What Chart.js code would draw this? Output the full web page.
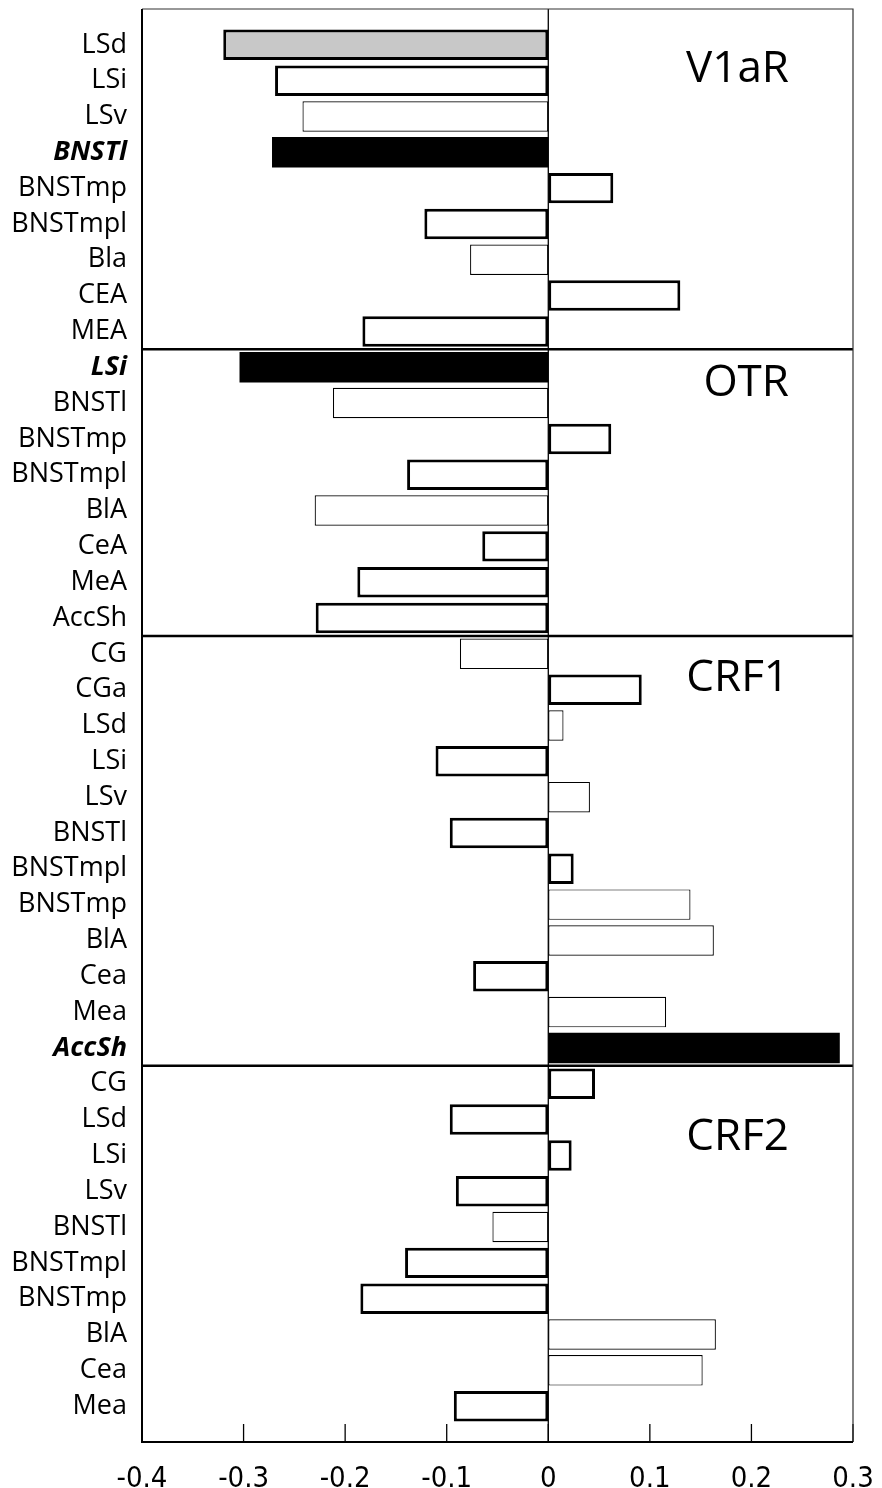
<!DOCTYPE html>
<html>
<head>
<meta charset="utf-8">
<script src="https://cdn.jsdelivr.net/npm/chart.js@4/dist/chart.umd.min.js"></script>
<style>
  body { margin: 0; background: #fff; }
  #wrap { width: 882px; height: 1488px; }
</style>
</head>
<body>
<div id="wrap"><canvas id="corrChart"></canvas></div>
<script>
// receptor groups, top to bottom
var receptors = ["V1aR", "OTR", "CRF1", "CRF2"];

var v1arRegions = ["LSd", "LSi", "LSv", "BNSTl", "BNSTmp", "BNSTmpl", "Bla", "CEA", "MEA"];
var v1arValues = [-0.320, -0.269, -0.242, -0.272, 0.064, -0.122, -0.077, 0.130, -0.183];
var v1arKinds = ["gray", "thick", "thin", "black", "thick", "thick", "thin", "thick", "thick"];

var otrRegions = ["LSi", "BNSTl", "BNSTmp", "BNSTmpl", "BlA", "CeA", "MeA", "AccSh"];
var otrValues = [-0.304, -0.212, 0.062, -0.139, -0.230, -0.065, -0.188, -0.229];
var otrKinds = ["black", "thin", "thick", "thick", "thin", "thick", "thick", "thick"];

var crf1Regions = ["CG", "CGa", "LSd", "LSi", "LSv", "BNSTl", "BNSTmpl", "BNSTmp", "BlA", "Cea", "Mea", "AccSh"];
var crf1Values = [-0.087, 0.092, 0.015, -0.111, 0.041, -0.097, 0.025, 0.140, 0.163, -0.074, 0.116, 0.287];
var crf1Kinds = ["thin", "thick", "thin", "thick", "thin", "thick", "thick", "thin", "thin", "thick", "thin", "black"];

var crf2Regions = ["CG", "LSd", "LSi", "LSv", "BNSTl", "BNSTmpl", "BNSTmp", "BlA", "Cea", "Mea"];
var crf2Values = [0.046, -0.097, 0.023, -0.091, -0.055, -0.141, -0.185, 0.165, 0.152, -0.093];
var crf2Kinds = ["thick", "thick", "thick", "thick", "thin", "thick", "thick", "thin", "thin", "thick"];

var xTicks = [-0.4, -0.3, -0.2, -0.1, 0, 0.1, 0.2, 0.3];
var xTickLabels = ["-0.4", "-0.3", "-0.2", "-0.1", "0", "0.1", "0.2", "0.3"];
// row (in category units) where each receptor name sits
var titleRows = [1.05, 9.8, 18.05, 30.85];

var regions = v1arRegions.concat(otrRegions, crf1Regions, crf2Regions);
var values = v1arValues.concat(otrValues, crf1Values, crf2Values);
var kinds = v1arKinds.concat(otrKinds, crf1Kinds, crf2Kinds);
var groupSizes = [v1arRegions.length, otrRegions.length, crf1Regions.length, crf2Regions.length];

var points = values.map(function (v, i) { return { x: v, y: i }; });

var fillFor = { gray: "#c8c8c8", black: "#000000", thick: "#ffffff", thin: "#ffffff" };
var widthFor = { gray: 3, black: 0, thick: 3, thin: 1.2 };

var framePlugin = {
  id: "frame",
  afterDatasetsDraw: function (chart) {
    var ctx = chart.ctx;
    var a = chart.chartArea;
    var xs = chart.scales.x;
    var ys = chart.scales.y;
    ctx.save();
    ctx.strokeStyle = "#000";

    // zero line
    var x0 = xs.getPixelForValue(0);
    ctx.lineWidth = 1.3;
    ctx.beginPath();
    ctx.moveTo(x0, a.top);
    ctx.lineTo(x0, a.bottom);
    ctx.stroke();

    // group separators
    ctx.lineWidth = 2.5;
    var row = 0;
    for (var g = 0; g < groupSizes.length - 1; g++) {
      row += groupSizes[g];
      var yy = ys.getPixelForValue(row - 0.5);
      ctx.beginPath();
      ctx.moveTo(a.left, yy);
      ctx.lineTo(a.right, yy);
      ctx.stroke();
    }

    // inner tick marks on bottom axis
    ctx.lineWidth = 1.3;
    xTicks.forEach(function (t) {
      var px = xs.getPixelForValue(t);
      ctx.beginPath();
      ctx.moveTo(px, a.bottom);
      ctx.lineTo(px, a.bottom - 18);
      ctx.stroke();
    });

    // frame
    ctx.lineWidth = 1.2;
    ctx.strokeStyle = "#333";
    ctx.beginPath();
    ctx.moveTo(a.left, a.top);
    ctx.lineTo(a.right, a.top);
    ctx.lineTo(a.right, a.bottom);
    ctx.stroke();
    ctx.strokeStyle = "#000";
    ctx.lineWidth = 2;
    ctx.beginPath();
    ctx.moveTo(a.left, a.top);
    ctx.lineTo(a.left, a.bottom);
    ctx.lineTo(a.right, a.bottom);
    ctx.stroke();

    // receptor names
    ctx.fillStyle = "#000";
    ctx.font = "44px 'Open Sans'";
    ctx.textAlign = "right";
    ctx.textBaseline = "alphabetic";
    receptors.forEach(function (name, i) {
      ctx.fillText(name, xs.getPixelForValue(0.237), ys.getPixelForValue(titleRows[i]));
    });
    ctx.restore();
  }
};

document.addEventListener("DOMContentLoaded", function () {
  var ctx = document.getElementById("corrChart").getContext("2d");
  new Chart(ctx, {
    type: "bar",
    data: {
      datasets: [
        {
          data: points,
          backgroundColor: kinds.map(function (k) { return fillFor[k]; }),
          borderColor: "#000",
          borderWidth: kinds.map(function (k) { return widthFor[k]; }),
          borderSkipped: false,
          categoryPercentage: 1,
          barPercentage: 0.85,
        },
      ],
    },
    options: {
      indexAxis: "y",
      responsive: true,
      maintainAspectRatio: false,
      animation: false,
      layout: { padding: { top: 9, right: 29, left: 0, bottom: 0 } },
      plugins: { legend: { display: false }, tooltip: { enabled: false } },
      scales: {
        x: {
          type: "linear",
          min: -0.4,
          max: 0.3,
          grid: { display: false, drawTicks: false },
          border: { display: false },
          afterBuildTicks: function (s) {
            s.ticks = xTicks.map(function (v) { return { value: v }; });
          },
          afterFit: function (s) {
            s.height = 46;
            s.paddingLeft = 0;
            s.paddingRight = 0;
          },
          ticks: {
            padding: 20,
            color: "#000",
            maxRotation: 0,
            autoSkip: false,
            font: { family: "'Liberation Sans Narrow', 'DejaVu Sans Condensed', sans-serif", size: 29 },
            callback: function (v, i) { return xTickLabels[i]; },
          },
        },
        y: {
          type: "linear",
          min: -1,
          max: 39,
          offset: false,
          reverse: true,
          grid: { display: false, drawTicks: false, offset: false },
          border: { display: false },
          afterFit: function (s) {
            s.width = 142;
            s.paddingTop = 0;
            s.paddingBottom = 0;
          },
          ticks: {
            stepSize: 1,
            autoSkip: false,
            padding: 15,
            color: "#000",
            font: function (c) {
              var k = kinds[c.tick ? c.tick.value : -1];
              return k === "black"
                ? { family: "'Open Sans'", size: 27, weight: "bold", style: "italic" }
                : { family: "'Open Sans'", size: 27 };
            },
            callback: function (v) { return regions[v] !== undefined ? regions[v] : ""; },
          },
        },
      },
    },
    plugins: [framePlugin],
  });
});
</script>
</body>
</html>
